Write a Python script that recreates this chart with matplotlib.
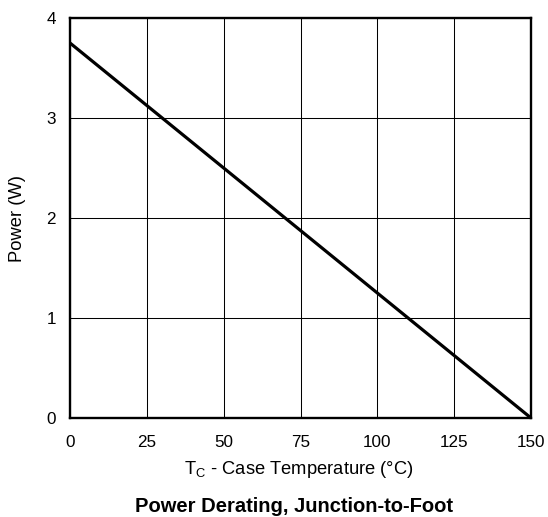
import matplotlib
matplotlib.use("Agg")
import matplotlib.pyplot as plt

temps = [0, 150]
power = [3.75, 0]
xticks = [0, 25, 50, 75, 100, 125, 150]
yticks = [0, 1, 2, 3, 4]

plt.rcParams['font.family'] = ['Liberation Sans', 'DejaVu Sans']

fig = plt.figure(figsize=(5.48, 5.17), dpi=100)
L, R, T, B = 70, 531, 18, 418
W, H = R - L, B - T
ax = fig.add_axes([L/548, 1-B/517, W/548, H/517])
ax.plot(temps, power, color='black', linewidth=2.3, solid_capstyle='butt', clip_on=False, zorder=3)
ax.set_xlim(0, 150)
ax.set_ylim(0, 4)
ax.set_xticks(xticks)
ax.set_yticks(yticks)
ax.grid(True, color='black', linewidth=0.75)
ax.set_axisbelow(True)
for s in ax.spines.values():
    s.set_linewidth(1.7)
    s.set_color('black')
ax.tick_params(length=0, labelsize=12.3)
ax.tick_params(axis='x', pad=12)
ax.tick_params(axis='y', pad=10)
ax.set_xlabel('T$_\\mathregular{C}$ - Case Temperature (°C)', fontsize=13.2, va='center')
ax.set_ylabel('Power (W)', fontsize=13.2, va='center')
ax.xaxis.set_label_coords((299 - L)/W, -(469 - B)/H)
ax.yaxis.set_label_coords((17 - L)/W, (B - 219)/H)
fig.text(294/548, 1-507/517, 'Power Derating, Junction-to-Foot', ha='center', va='center',
         fontsize=14.5, fontweight='bold')
fig.savefig('out.png', dpi=100)
